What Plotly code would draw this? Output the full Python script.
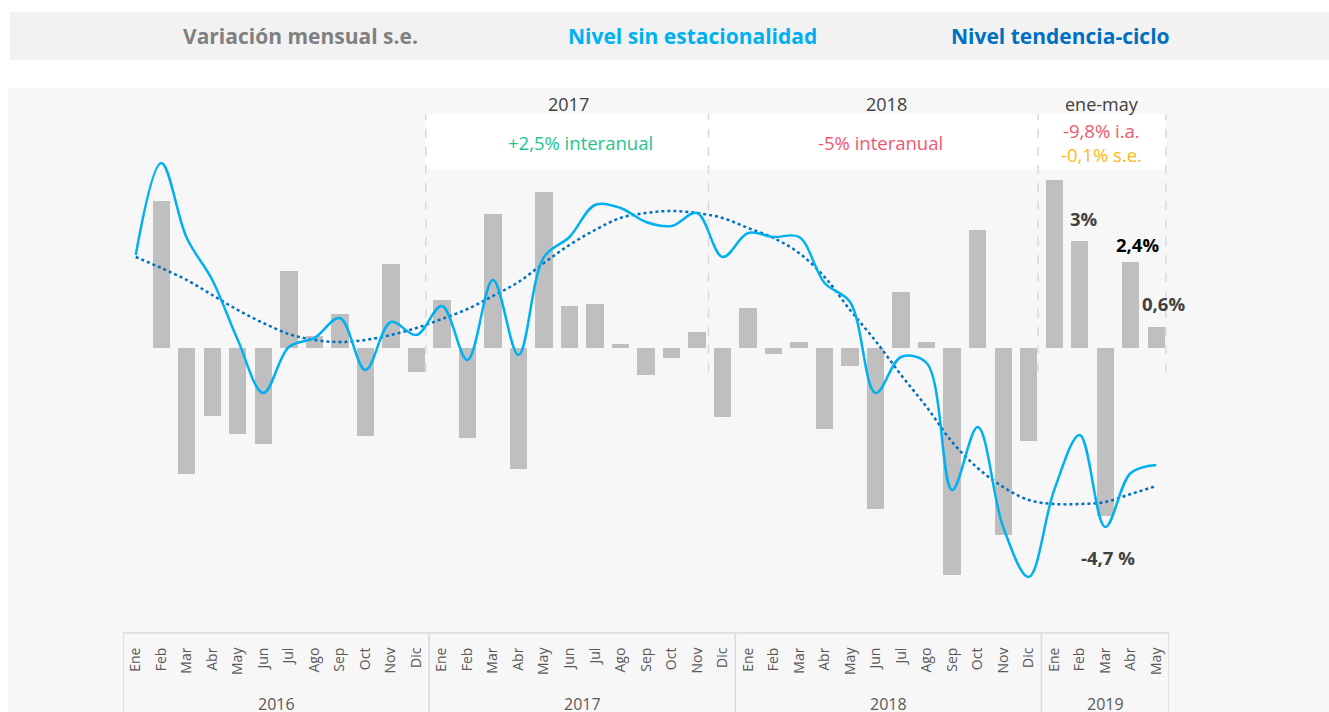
import plotly.graph_objects as go

# ---------------- data ----------------
months = ["Ene", "Feb", "Mar", "Abr", "May", "Jun", "Jul", "Ago", "Sep", "Oct", "Nov", "Dic"]
month_labels = months * 3 + months[:5]
years = ["2016", "2017", "2018", "2019"]

# Variación mensual s.e. (%)
var_mensual = [
    None, 4.13, -3.53, -1.91, -2.41, -2.69, 2.17, 0.33, 0.95, -2.47, 2.34, -0.68,
    1.34, -2.52, 3.75, -3.40, 4.36, 1.18, 1.23, 0.11, -0.76, -0.27, 0.45, -1.94,
    1.12, -0.16, 0.16, -2.27, -0.50, -4.52, 1.56, 0.16, -6.37, 3.30, -5.25, -2.61,
    4.70, 3.00, -4.70, 2.40, 0.60,
]

# Nivel sin estacionalidad (índice)
nivel_se = [
    109.3, 118.5, 111.0, 106.8, 100.8, 95.5, 100.1, 101.0, 103.0, 97.8, 102.6, 101.3,
    104.2, 98.8, 106.8, 99.3, 109.1, 111.1, 114.3, 114.0, 112.6, 112.2, 113.5, 109.1,
    111.5, 111.1, 111.1, 106.5, 104.6, 95.5, 99.1, 98.5, 85.8, 92.1, 82.1, 77.1,
    85.8, 91.3, 82.1, 87.5, 88.3,
]

# Nivel tendencia-ciclo (índice)
nivel_tc = [
    109.1, 108.0, 106.8, 105.3, 103.8, 102.5, 101.4, 100.8, 100.6, 100.8, 101.3, 102.0,
    102.9, 103.9, 105.2, 106.6, 108.5, 110.3, 111.8, 113.0, 113.5, 113.7, 113.5, 113.0,
    112.0, 111.0, 109.5, 107.1, 103.8, 100.7, 97.3, 94.1, 90.6, 88.0, 86.1, 84.8,
    84.4, 84.4, 84.6, 85.4, 86.2,
]

period_titles = ["2017", "2018", "ene-may"]
period_notes = ["+2,5% interanual", "-5% interanual"]
ytd_notes = ["-9,8% i.a.", "-0,1% s.e."]
bar_labels = {37: "3%", 39: "2,4%", 40: "0,6%", 38: "-4,7 %"}

# ---------------- layout helpers ----------------
W, H = 1329, 712
L_PX, R_PX, T_PX, B_PX = 123, 1169, 88, 633
PW, PH = R_PX - L_PX, B_PX - T_PX


def px_x(p):
    return (p - L_PX) / PW


def px_y(p):
    return (B_PX - p) / PH


x = list(range(len(month_labels)))
FONT = "Open Sans"

fig = go.Figure()

fig.add_trace(go.Bar(
    x=x, y=var_mensual, width=0.68, marker=dict(color="#BFBFBF", line=dict(width=0)),
    name="Variación mensual s.e.", showlegend=False,
))
fig.add_trace(go.Scatter(
    x=x, y=nivel_tc, mode="lines", yaxis="y2",
    line=dict(color="#0070C0", width=2.5, dash="dot", shape="spline", smoothing=1.0),
    name="Nivel tendencia-ciclo", showlegend=False,
))
fig.add_trace(go.Scatter(
    x=x, y=nivel_se, mode="lines", yaxis="y2",
    line=dict(color="#00B0F0", width=2.5, shape="spline", smoothing=1.0),
    name="Nivel sin estacionalidad", showlegend=False,
))

shapes = []
# header band
shapes.append(dict(type="rect", xref="paper", yref="paper", x0=px_x(10), x1=px_x(1329),
                   y0=px_y(60), y1=px_y(12), fillcolor="#F2F2F2", line=dict(width=0), layer="below"))
# chart panel
shapes.append(dict(type="rect", xref="paper", yref="paper", x0=px_x(8), x1=px_x(1329),
                   y0=px_y(712), y1=px_y(88), fillcolor="#F7F7F7", line=dict(width=0), layer="below"))
# white band for period notes
bounds = [11.37, 22.45, 35.37, 40.38]
shapes.append(dict(type="rect", xref="x", yref="paper", x0=bounds[0], x1=bounds[-1],
                   y0=px_y(169), y1=px_y(114), fillcolor="#FFFFFF", line=dict(width=0), layer="below"))
# dashed separators
for b in bounds:
    shapes.append(dict(type="line", xref="x", yref="paper", x0=b, x1=b,
                       y0=px_y(372), y1=px_y(114), line=dict(color="#D9D9D9", width=1.5, dash="dash"),
                       layer="below"))
# axis box
shapes.append(dict(type="line", xref="x", yref="paper", x0=-0.5, x1=40.5, y0=0, y1=0,
                   line=dict(color="#D9D9D9", width=1.5)))
for d in [-0.5, 11.5, 23.5, 35.5, 40.5]:
    shapes.append(dict(type="line", xref="x", yref="paper", x0=d, x1=d, y0=px_y(712), y1=0,
                       line=dict(color="#D9D9D9", width=1.5)))

ann = []
# header legend
for txt, col, cx in [("Variación mensual s.e.", "#808080", 300),
                     ("Nivel sin estacionalidad", "#00B0F0", 692),
                     ("Nivel tendencia-ciclo", "#0070C0", 1060)]:
    ann.append(dict(text="<b>%s</b>" % txt, xref="paper", yref="paper", x=px_x(cx), y=px_y(36),
                    showarrow=False, font=dict(family=FONT, size=21, color=col),
                    xanchor="center", yanchor="middle"))
# period titles
for txt, xi in zip(period_titles, [16.98, 29.43, 37.87]):
    ann.append(dict(text=txt, xref="x", yref="paper", x=xi, y=px_y(104), showarrow=False,
                    font=dict(family=FONT, size=18, color="#404040"), yanchor="middle"))
ann.append(dict(text=period_notes[0], xref="x", yref="paper", x=17.45, y=px_y(142), showarrow=False,
                font=dict(family=FONT, size=18.5, color="#1FC48E"), yanchor="middle"))
ann.append(dict(text=period_notes[1], xref="x", yref="paper", x=29.2, y=px_y(142), showarrow=False,
                font=dict(family=FONT, size=18.5, color="#F4566F"), yanchor="middle"))
ann.append(dict(text=ytd_notes[0], xref="x", yref="paper", x=37.87, y=px_y(131), showarrow=False,
                font=dict(family=FONT, size=18.5, color="#F4566F"), yanchor="middle"))
ann.append(dict(text=ytd_notes[1], xref="x", yref="paper", x=37.87, y=px_y(154), showarrow=False,
                font=dict(family=FONT, size=18.5, color="#FDB913"), yanchor="middle"))
# bar labels
lab_pos = {37: (37.17, 219, "#404040"), 39: (39.25, 244, "#000000"),
           40: (40.27, 303, "#404040"), 38: (38.1, 557, "#404040")}
for k, txt in bar_labels.items():
    xi, yp, col = lab_pos[k]
    ann.append(dict(text="<b>%s</b>" % txt, xref="x", yref="paper", x=xi, y=px_y(yp), showarrow=False,
                    font=dict(family=FONT, size=18.5, color=col), yanchor="middle"))
# year labels under axis
for txt, xi in zip(years, [5.5, 17.5, 29.5, 38.0]):
    ann.append(dict(text=txt, xref="x", yref="paper", x=xi, y=px_y(704), showarrow=False,
                    font=dict(family=FONT, size=16, color="#595959"), yanchor="middle"))

Y0, Y1 = -(B_PX - 348) / 35.7, (348 - T_PX) / 35.7
fig.update_layout(
    width=W, height=H,
    margin=dict(l=L_PX, r=W - R_PX, t=T_PX, b=H - B_PX, pad=0),
    paper_bgcolor="#FFFFFF", plot_bgcolor="#F7F7F7",
    font=dict(family=FONT, color="#595959"),
    bargap=0, showlegend=False,
    xaxis=dict(range=[-0.5, 40.5], tickmode="array", tickvals=x, ticktext=month_labels,
               tickangle=-90, tickfont=dict(family=FONT, size=14, color="#595959"),
               showgrid=False, zeroline=False, showline=False,
               ticks="outside", ticklen=8, tickcolor="rgba(0,0,0,0)", fixedrange=True),
    yaxis=dict(range=[Y0, Y1], visible=False, showgrid=False, zeroline=False, fixedrange=True),
    yaxis2=dict(range=[100 + (348 - B_PX) / 10, 100 + (348 - T_PX) / 10], overlaying="y",
                visible=False, showgrid=False, zeroline=False, fixedrange=True),
    shapes=shapes, annotations=ann,
)

fig.write_html("out.html", post_script="document.body.style.margin='0';",
               config={"displayModeBar": False})
